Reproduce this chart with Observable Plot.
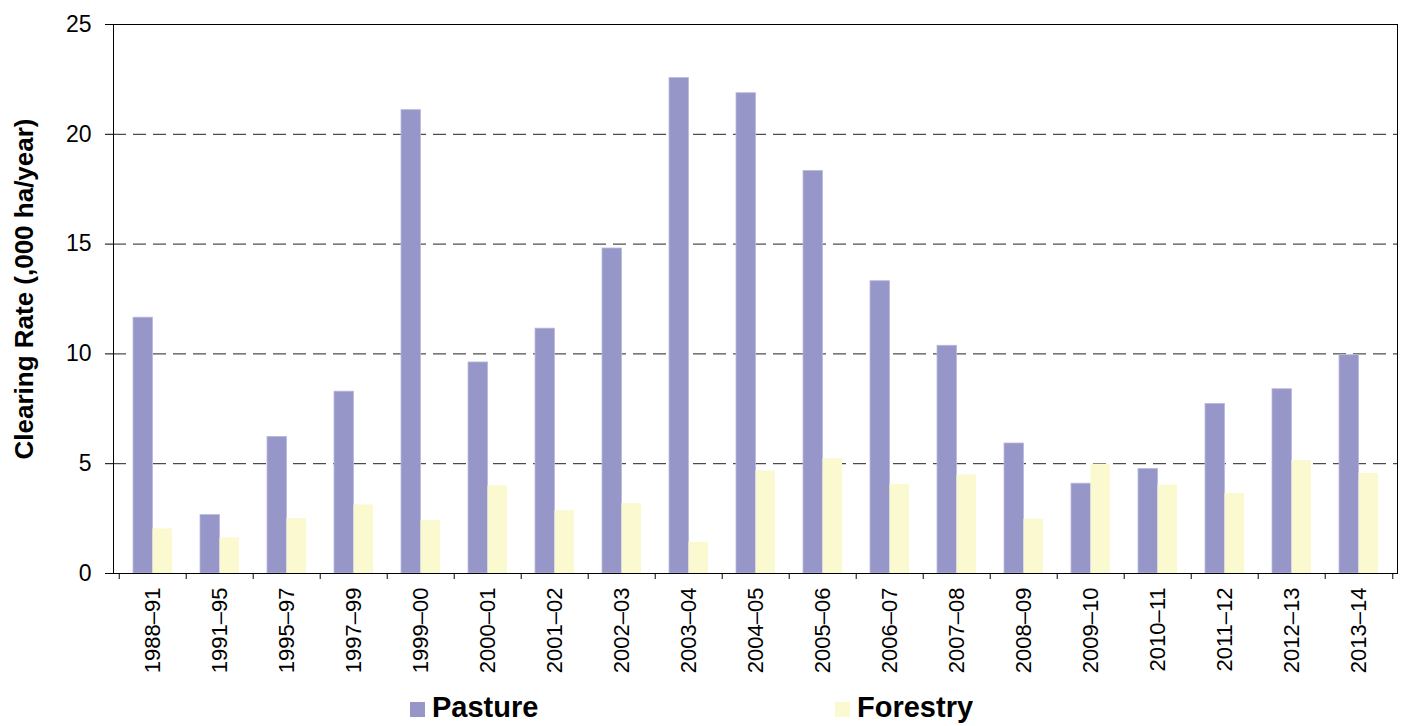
<!DOCTYPE html>
<html>
<head>
<meta charset="utf-8">
<script src="https://cdn.jsdelivr.net/npm/d3@7"></script>
<script src="https://cdn.jsdelivr.net/npm/@observablehq/plot@0.6"></script>
<style>
  html, body { margin: 0; padding: 0; background: #fff; }
  body { position: relative; width: 1407px; height: 726px; overflow: hidden; font-family: "Liberation Sans", Arial, sans-serif; color: #000; }
  #legend { position: relative; height: 46px; }
  .item { position: absolute; top: 13px; display: flex; align-items: center; font-weight: bold; font-size: 29px; line-height: 29px; }
  .sw { width: 15px; height: 15px; margin-right: 7px; margin-top: 3px; }
</style>
</head>
<body>
<div id="chart"></div>
<div id="legend"></div>
<script>
const periods = ["1988–91","1991–95","1995–97","1997–99","1999–00","2000–01","2001–02","2002–03","2003–04","2004–05","2005–06","2006–07","2007–08","2008–09","2009–10","2010–11","2011–12","2012–13","2013–14"];
const pasture = [11.65, 2.66, 6.22, 8.28, 21.1, 9.61, 11.15, 14.8, 22.56, 21.87, 18.33, 13.31, 10.37, 5.92, 4.09, 4.76, 7.72, 8.39, 9.94];
const forestry = [2.03, 1.62, 2.5, 3.12, 2.41, 3.99, 2.86, 3.18, 1.42, 4.67, 5.23, 4.06, 4.49, 2.47, 4.98, 4.03, 3.65, 5.15, 4.56];
const seriesNames = ["Pasture", "Forestry"];
const seriesColors = ["#9696C8", "#FAF9CF"];
const yTicks = [0, 5, 10, 15, 20, 25];
const gridValues = [5, 10, 15, 20];
const yTitle = "Clearing Rate (,000 ha/year)";

const pastureData = periods.map((p, i) => ({period: p, value: pasture[i]}));
const forestryData = periods.map((p, i) => ({period: p, value: forestry[i]}));

const width = 1407, height = 680;
const marginLeft = 113, marginRight = 10, marginTop = 24, marginBottom = 107;
const pad = 0.423;
const step = (width - marginLeft - marginRight) / periods.length;
const bw = step * (1 - pad);

const chart = Plot.plot({
  width, height, marginLeft, marginRight, marginTop, marginBottom,
  style: {fontFamily: "'Liberation Sans', Arial, sans-serif", color: "#000", background: "#fff", overflow: "visible"},
  x: {domain: periods, paddingInner: pad, paddingOuter: pad / 2},
  y: {domain: [0, 25]},
  marks: [
    Plot.ruleY(gridValues, {stroke: "#222", strokeDasharray: "13,7", strokeWidth: 1}),
    Plot.barY(pastureData, {x: "period", y: "value", fill: seriesColors[0], insetRight: bw / 2, stroke: "#B9B9DE", strokeWidth: 0.8}),
    Plot.barY(forestryData, {x: "period", y: "value", fill: seriesColors[1], insetLeft: bw / 2}),
    Plot.frame({stroke: "#000", strokeWidth: 1}),
    Plot.axisY({ticks: yTicks, tickSize: 8, tickPadding: 14, fontSize: 23, label: null}),
    Plot.axisX({tickSize: 0, tickRotate: -90, tickPadding: 14, fontSize: 22, label: null}),
    Plot.axisX({tickSize: 6, tickFormat: () => "", dx: -step / 2, label: null}),
    Plot.axisX({ticks: [periods[periods.length - 1]], tickSize: 6, tickFormat: () => "", dx: step / 2, label: null}),
    Plot.text([yTitle], {frameAnchor: "left", rotate: -90, dx: -89, dy: -10, fontSize: 26, fontWeight: "bold", textAnchor: "middle"})
  ]
});
document.getElementById("chart").appendChild(chart);

const legend = document.getElementById("legend");
const legendLeft = [410, 835];
seriesNames.forEach((name, i) => {
  const it = document.createElement("div");
  it.className = "item";
  it.style.left = legendLeft[i] + "px";
  const sw = document.createElement("span");
  sw.className = "sw";
  sw.style.background = seriesColors[i];
  it.appendChild(sw);
  const t = document.createElement("span");
  t.textContent = name;
  it.appendChild(t);
  legend.appendChild(it);
});
</script>
</body>
</html>
